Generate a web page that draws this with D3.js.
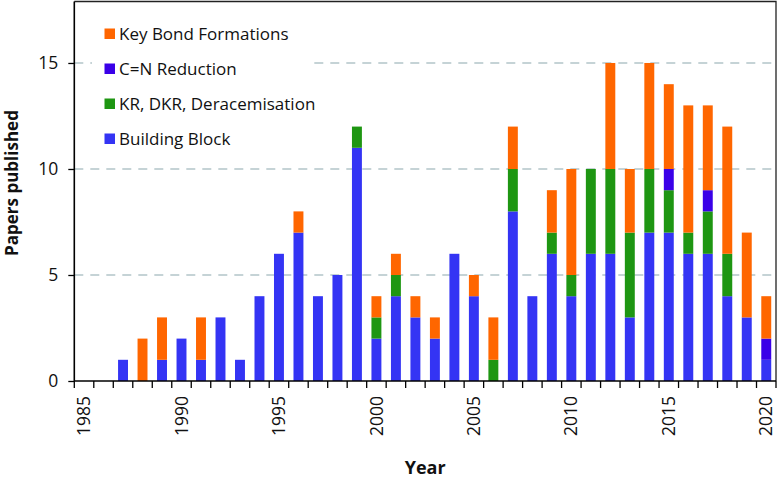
<!DOCTYPE html>
<html>
<head>
<meta charset="utf-8">
<script src="https://cdn.jsdelivr.net/npm/d3@7"></script>
<style>
  body { margin: 0; background: #fff; }
  svg { display: block; font-family: "Open Sans", "DejaVu Sans", sans-serif; }
</style>
</head>
<body>
<svg id="chart" width="779" height="478"></svg>
<script>
// ---- data ----
const years = d3.range(1985, 2021);
const buildingBlock = [0,0,1,0,1,2,1,3,1,4,6,7,4,5,11,2,4,3,2,6,4,0,8,4,6,4,6,6,3,7,7,6,6,4,3,1];
const krDkr        = [0,0,0,0,0,0,0,0,0,0,0,0,0,0,1,1,1,0,0,0,0,1,2,0,1,1,4,4,4,3,2,1,2,2,0,0];
const cnReduction  = [0,0,0,0,0,0,0,0,0,0,0,0,0,0,0,0,0,0,0,0,0,0,0,0,0,0,0,0,0,0,1,0,1,0,0,1];
const keyBond      = [0,0,0,2,2,0,2,0,0,0,0,1,0,0,0,1,1,1,1,0,1,2,2,0,2,5,0,5,3,5,4,6,4,6,4,2];
const yTicks = [0, 5, 10, 15];
const xTickLabels = [1985, 1990, 1995, 2000, 2005, 2010, 2015, 2020];
const seriesNames = ["Building Block", "KR, DKR, Deracemisation", "C=N Reduction", "Key Bond Formations"];
const seriesColors = ["#3434f4", "#1e9612", "#3a00e8", "#ff6600"];
const legendOrder = [3, 2, 1, 0];

(function () {
// ---- layout ----
const svg = d3.select("#chart");
const pL = 74.3, pR = 776, pT = 1.5, pB = 381;

const rows = years.map((yv, i) => ({
  year: yv, s0: buildingBlock[i], s1: krDkr[i], s2: cnReduction[i], s3: keyBond[i]
}));
const keys = ["s0", "s1", "s2", "s3"];
const stacked = d3.stack().keys(keys)(rows);

const x = d3.scaleBand().domain(years).range([pL, pR]).paddingInner(0.49).paddingOuter(0.245);
const y = d3.scaleLinear().domain([0, 17.9]).range([pB, pT]);

// grid lines
svg.append("g").selectAll("line").data(yTicks.filter(d => d > 0)).join("line")
  .attr("x1", pL).attr("x2", pR)
  .attr("y1", d => y(d)).attr("y2", d => y(d))
  .attr("stroke", "#b3c5c9").attr("stroke-width", 1.6)
  .attr("stroke-dasharray", "9,7");

// legend background (covers grid)
svg.append("rect").attr("x", 92).attr("y", 12).attr("width", 218).attr("height", 146).attr("fill", "#fff");

// bars
svg.append("g").selectAll("g").data(stacked).join("g")
  .attr("fill", (d, i) => seriesColors[i])
  .selectAll("rect").data(d => d.filter(p => p[1] - p[0] > 0)).join("rect")
  .attr("x", d => x(d.data.year))
  .attr("width", x.bandwidth())
  .attr("y", d => y(d[1]))
  .attr("height", d => y(d[0]) - y(d[1]));

// frame top/right
svg.append("path")
  .attr("d", `M${pL},${pT}H${pR}V${pB}`)
  .attr("fill", "none").attr("stroke", "#222").attr("stroke-width", 1.3);

// y axis
const yAxis = svg.append("g").attr("transform", `translate(${pL},0)`)
  .call(d3.axisLeft(y).tickValues(yTicks).tickSize(6).tickPadding(10).tickSizeOuter(0));
yAxis.select(".domain").remove();
yAxis.append("line").attr("x1", 0).attr("x2", 0).attr("y1", pT).attr("y2", pB)
  .attr("stroke", "#000").attr("stroke-width", 1.6);
yAxis.selectAll(".tick line").attr("stroke", "#000").attr("stroke-width", 1.3);
yAxis.selectAll(".tick text").attr("font-size", 17.5).attr("fill", "#111")
  .attr("font-family", '"Open Sans", sans-serif');

// x axis
const step = x.step();
const gap = (step - x.bandwidth()) / 2;
const edges = years.map(yv => x(yv) - gap).concat([x(2020) + x.bandwidth() + gap]);
const xg = svg.append("g");
xg.append("line").attr("x1", pL).attr("x2", pR).attr("y1", pB).attr("y2", pB)
  .attr("stroke", "#000").attr("stroke-width", 1.6);
xg.selectAll(".xt").data(edges).join("line").attr("class", "xt")
  .attr("x1", d => d).attr("x2", d => d).attr("y1", pB).attr("y2", pB + 7)
  .attr("stroke", "#000").attr("stroke-width", 1.3);
xg.selectAll("text").data(xTickLabels).join("text")
  .attr("transform", d => `translate(${x(d) + x.bandwidth() / 2},396) rotate(-90)`)
  .attr("text-anchor", "end").attr("dy", "0.35em")
  .attr("font-size", 17.5).attr("fill", "#111")
  .text(d => d);

// axis titles
svg.append("text").attr("x", (pL + pR) / 2).attr("y", 474)
  .attr("text-anchor", "middle").attr("font-size", 18).attr("font-weight", "bold").attr("fill", "#111")
  .text("Year");
svg.append("text").attr("transform", `translate(18,183) rotate(-90)`)
  .attr("text-anchor", "middle").attr("font-size", 17).attr("font-weight", "bold").attr("fill", "#111")
  .text("Papers published");

// legend
const lg = svg.append("g");
legendOrder.forEach((si, r) => {
  const yy = 40 + r * 35;
  lg.append("rect").attr("x", 104.5).attr("y", yy - 11.5).attr("width", 10.5).attr("height", 10.5)
    .attr("fill", seriesColors[si]);
  lg.append("text").attr("x", 119).attr("y", yy).attr("font-size", 17).attr("fill", "#111")
    .text(seriesNames[si]);
});
})();
</script>
</body>
</html>
